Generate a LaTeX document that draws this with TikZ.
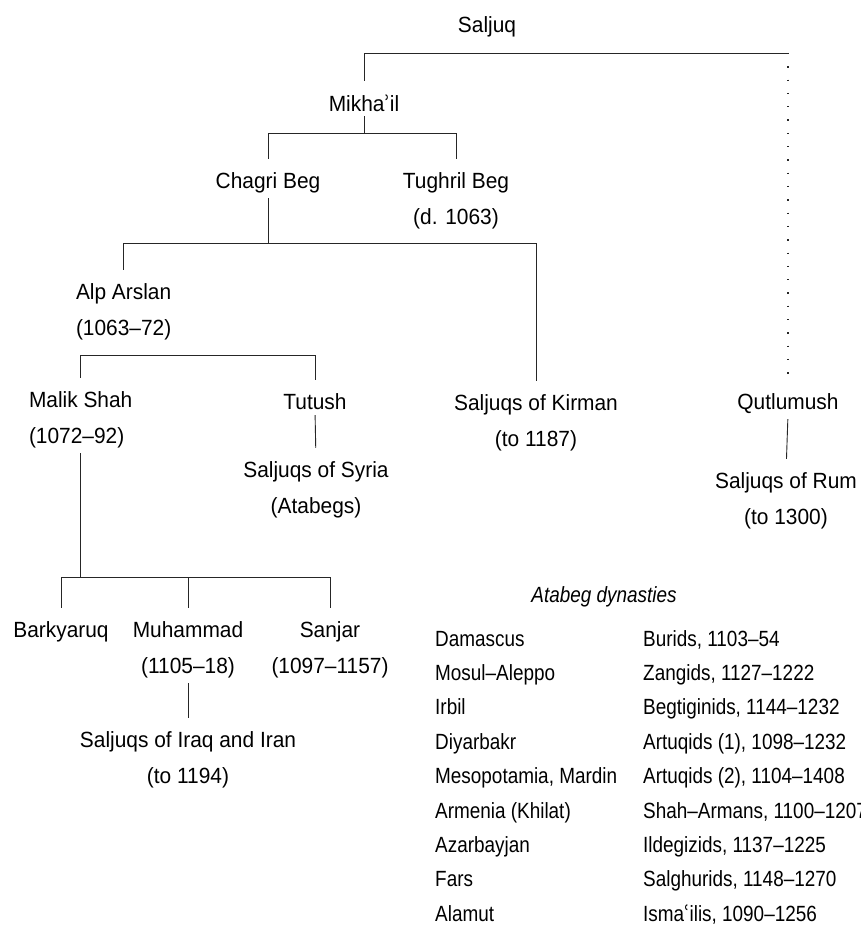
\documentclass[tikz,border=0pt]{standalone}
\usepackage{fontspec}
\setmainfont{Liberation Sans}[FakeStretch=0.95]
\newfontfamily\tablefont{Liberation Sans}[FakeStretch=0.86, Ligatures=TeX]
\newfontfamily\markfont{DejaVu Sans}[FakeStretch=0.8]
\tikzstyle{node_normal} = [inner sep=0pt, outer sep=0pt, align=center, font=\fontsize{22}{36}\selectfont]
\tikzstyle{node_left} = [node_normal, align=left, anchor=west]
\tikzstyle{node_table} = [inner sep=0pt, anchor=base west, font=\tablefont\fontsize{22}{36}\selectfont]
\tikzstyle{edge_normal} = [line width=0.9pt, black!85]
\tikzstyle{edge_dotted} = [line width=1.3pt, black!85, dash pattern=on 1.3pt off 12pt]
\tikzstyle{edge_in} = [edge_normal, shorten >=14pt]
\tikzstyle{edge_out} = [edge_normal, shorten <=5pt]
\tikzstyle{edge_up} = [edge_normal, shorten <=14pt]
\tikzstyle{edge_fork} = [edge_normal, shorten <=14pt, shorten >=14pt]
\tikzstyle{edge_link} = [edge_normal, shorten <=5pt, shorten >=14pt]
\begin{document}
\begin{tikzpicture}[x=1pt, y=-1pt]
			\path[fill=white, use as bounding box] (0,0) rectangle (860,925);
			% family tree
			\node (Saljuq) at (487,27) [node_normal] {Saljuq};
			\node (Mikhail) at (364,103) [node_normal] {Mikha{\markfont ʾ}il};
			\node (ChagriBeg) at (268,183) [node_normal] {Chagri Beg};
			\node (TughrilBeg) at (456,201) [node_normal] {Tughril Beg\\(d. 1063)};
			\node (AlpArslan) at (76,312) [node_left] {Alp Arslan\\(1063--72)};
			\node (Kirman) at (536,423) [node_normal] {Saljuqs of Kirman\\(to 1187)};
			\node (MalikShah) at (29,420) [node_left] {Malik Shah\\(1072--92)};
			\node (Tutush) at (315,402) [node_normal] {Tutush};
			\node (Syria) at (316,490) [node_normal] {Saljuqs of Syria\\(Atabegs)};
			\node (Qutlumush) at (788,404) [node_normal] {Qutlumush};
			\node (Rum) at (786,501) [node_normal] {Saljuqs of Rum\\(to 1300)};
			\node (Barkyaruq) at (61,632) [node_normal] {Barkyaruq};
			\node (Muhammad) at (188,650) [node_normal] {Muhammad\\(1105--18)};
			\node (Sanjar) at (330,650) [node_normal] {Sanjar\\(1097--1157)};
			\node (IraqIran) at (188,760) [node_normal] {Saljuqs of Iraq and Iran\\(to 1194)};
			\coordinate (Qtop) at (788,53);
			\coordinate (B2) at (0,133);
			\coordinate (B3) at (0,243);
			\coordinate (B4) at (0,355);
			\coordinate (B6) at (0,577);
			\draw[edge_up] (Mikhail.north) |- (Qtop);
			\draw[edge_dotted, shorten >=13pt] (Qtop) -- (Qutlumush.north);
			\draw[edge_out] (Mikhail.south) -- (Mikhail.south |- B2);
			\draw[edge_fork] (ChagriBeg.north) |- (TughrilBeg.north |- B2) -- (TughrilBeg.north);
			\draw[edge_out] (ChagriBeg.south) -- (ChagriBeg.south |- B3);
			\draw[edge_fork] (AlpArslan.north) |- (Kirman.north |- B3) -- (Kirman.north);
			\draw[edge_fork] (MalikShah.north) |- (Tutush.north |- B4) -- (Tutush.north);
			\draw[edge_link] (Tutush.south) -- (Syria.north);
			\draw[edge_link] (Qutlumush.south) -- (Rum.north);
			\draw[edge_out] (MalikShah.south) -- (MalikShah.south |- B6);
			\draw[edge_fork] (Barkyaruq.north) |- (Sanjar.north |- B6) -- (Sanjar.north);
			\draw[edge_in] (Muhammad.north |- B6) -- (Muhammad.north);
			\draw[edge_link] (Muhammad.south) -- (IraqIran.north);
			% atabeg table
			\node (Atabeg) at (604,597) [node_normal, font=\tablefont\fontsize{22}{36}\selectfont\itshape] {Atabeg dynasties};
			\node (D1) at (435,646) [node_table] {Damascus};
			\node (D2) at (435,680.4) [node_table] {Mosul--Aleppo};
			\node (D3) at (435,714.8) [node_table] {Irbil};
			\node (D4) at (435,749.2) [node_table] {Diyarbakr};
			\node (D5) at (435,783.6) [node_table] {Mesopotamia, Mardin};
			\node (D6) at (435,818) [node_table] {Armenia (Khilat)};
			\node (D7) at (435,852.4) [node_table] {Azarbayjan};
			\node (D8) at (435,886.8) [node_table] {Fars};
			\node (D9) at (435,921.2) [node_table] {Alamut};
			\node (R1) at (643,646) [node_table] {Burids, 1103--54};
			\node (R2) at (643,680.4) [node_table] {Zangids, 1127--1222};
			\node (R3) at (643,714.8) [node_table] {Begtiginids, 1144--1232};
			\node (R4) at (643,749.2) [node_table] {Artuqids (1), 1098--1232};
			\node (R5) at (643,783.6) [node_table] {Artuqids (2), 1104--1408};
			\node (R6) at (643,818) [node_table] {Shah--Armans, 1100--1207};
			\node (R7) at (643,852.4) [node_table] {Ildegizids, 1137--1225};
			\node (R8) at (643,886.8) [node_table] {Salghurids, 1148--1270};
			\node (R9) at (643,921.2) [node_table] {Isma{\markfont ʿ}ilis, 1090--1256};
		\end{tikzpicture}
\end{document}
